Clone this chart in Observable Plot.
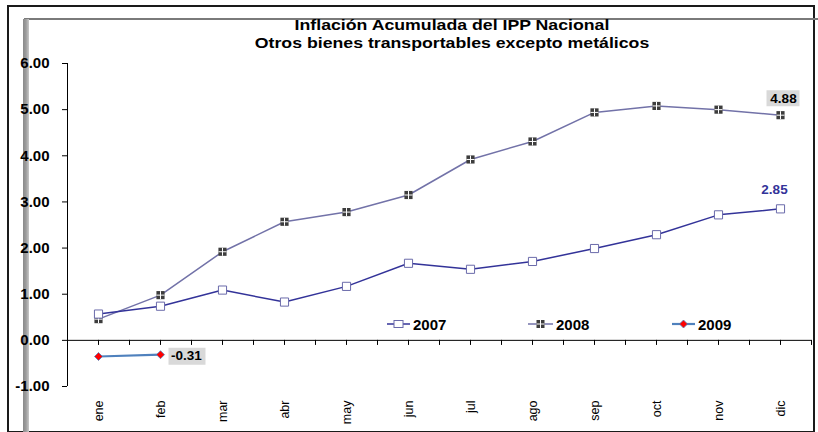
<!DOCTYPE html>
<html>
<head>
<meta charset="utf-8">
<script src="https://cdn.jsdelivr.net/npm/d3@7"></script>
<script src="https://cdn.jsdelivr.net/npm/@observablehq/plot@0.6"></script>
<style>
  html, body { margin: 0; padding: 0; background: #fff; }
  #wrap { position: relative; width: 818px; height: 432px; overflow: hidden; background: #fff; font-family: "Liberation Sans", Arial, sans-serif; }
  #wrap svg { display: block; position: relative; z-index: 2; background: transparent !important; }
  .ov { position: absolute; }
  .deco { z-index: 1; }
  #title { left: 0; width: 904px; top: 16px; text-align: center; font-weight: bold; font-size: 15px; line-height: 18px; color: #000; z-index: 3; transform: scaleX(1.18); transform-origin: 452px 0; }
  .leg { position: absolute; top: 315px; font-weight: bold; font-size: 15px; display: flex; align-items: center; height: 18px; z-index: 3; }
  .leg svg { margin-right: 3px; }
</style>
</head>
<body>
<div id="wrap"></div>
<script>
const months = ["ene","feb","mar","abr","may","jun","jul","ago","sep","oct","nov","dic"];
const v2007 = [0.57,0.74,1.09,0.83,1.17,1.67,1.54,1.71,1.99,2.29,2.72,2.85];
const v2008 = [0.46,0.98,1.92,2.57,2.78,3.15,3.92,4.31,4.94,5.08,5.00,4.88];
const v2009 = [-0.35,-0.31];
const yTicks = [-1,0,1,2,3,4,5,6];
const seriesNames = ["2007","2008","2009"];
const titleLines = ["Inflación Acumulada del IPP Nacional","Otros bienes transportables excepto metálicos"];

const c2007 = "#333399", c2008 = "#7272a8", c2009 = "#4f81bd";

const rows = (vals, s) => vals.map((v, i) => ({m: months[i], i, v, s}));
const d2007 = rows(v2007, "2007"), d2008 = rows(v2008, "2008"), d2009 = rows(v2009, "2009");

const plusSym = {draw(ctx, size) { const r = Math.sqrt(size / Math.PI) * 0.95; ctx.moveTo(-r, 0); ctx.lineTo(r, 0); ctx.moveTo(0, -r); ctx.lineTo(0, r); }};
const boxSym = (w, h) => ({draw(ctx) { ctx.rect(-w/2, -h/2, w, h); }});

const halfTicks = d3.range(0, 24).map(k => k / 2);

const last2008 = [d2008[d2008.length - 1]];
const last2007 = [d2007[d2007.length - 1]];
const last2009 = [d2009[d2009.length - 1]];

const chart = Plot.plot({
  width: 818, height: 432,
  marginLeft: 67, marginRight: 7, marginTop: 63, marginBottom: 46,
  style: {fontFamily: '"Liberation Sans", Arial, sans-serif', background: "transparent"},
  x: {type: "linear", domain: [-0.5, 11.5]},
  y: {domain: [-1, 6]},
  marks: [
    Plot.axisY({ticks: yTicks, tickFormat: d => d.toFixed(2), tickSize: 5, tickPadding: 13, fontSize: 15, fontWeight: "bold", stroke: "#000", label: null}),
    Plot.axisX({ticks: d3.range(12), tickFormat: i => months[i], tickSize: 0, tickRotate: -90, tickPadding: 14, fontSize: 12.5, label: null}),
    Plot.ruleX([-0.5], {y1: -1, y2: 6, stroke: "#000"}),
    Plot.ruleY([0], {x1: -0.5, x2: 11.5, stroke: "#000"}),
    Plot.ruleX(halfTicks, {x: d => d, y1: 0, y2: -0.11, stroke: "#000"}),
    Plot.line(d2008, {x: "i", y: "v", stroke: c2008, strokeWidth: 1.5}),
    Plot.line(d2007, {x: "i", y: "v", stroke: c2007, strokeWidth: 1.5}),
    Plot.line(d2009, {x: "i", y: "v", stroke: c2009, strokeWidth: 2.2}),
    Plot.dot(d2008, {x: "i", y: "v", symbol: "square", r: 4.6, fill: "#3d3d3d", stroke: "none"}),
    Plot.dot(d2008, {x: "i", y: "v", symbol: plusSym, r: 4.2, stroke: "#fff", strokeWidth: 1, fill: "none"}),
    Plot.dot(d2007, {x: "i", y: "v", symbol: "square", r: 4.6, fill: "#fff", stroke: "#6a6aaa", strokeWidth: 1}),
    Plot.dot(d2009, {x: "i", y: "v", symbol: "diamond2", r: 3.6, fill: "#ff0000", stroke: c2009, strokeWidth: 0.8}),
    // data labels
    Plot.dot(last2008, {x: "i", y: "v", symbol: boxSym(33, 16), dx: 2.5, dy: -17, fill: "#d9d9d9", stroke: "none"}),
    Plot.text(last2008, {x: "i", y: "v", text: d => d.v.toFixed(2), dx: 3, dy: -17, fontSize: 13.5, fontWeight: "bold", fill: "#000"}),
    Plot.text(last2007, {x: "i", y: "v", text: d => d.v.toFixed(2), dx: -6, dy: -19, fontSize: 13.5, fontWeight: "bold", fill: c2007}),
    Plot.dot(last2009, {x: "i", y: "v", symbol: boxSym(37, 17), dx: 26.5, dy: 1.5, fill: "#d9d9d9", stroke: "none"}),
    Plot.text(last2009, {x: "i", y: "v", text: d => d.v.toFixed(2), dx: 26, dy: 1.5, fontSize: 13.5, fontWeight: "bold", fill: "#000"})
  ]
});

const wrap = document.getElementById("wrap");
wrap.appendChild(chart);

function addDiv(style, cls) { const d = document.createElement("div"); d.className = "ov " + (cls || ""); Object.assign(d.style, style); wrap.appendChild(d); return d; }
// decorative frame (behind the chart)
addDiv({left: "7px", top: "5px", width: "808px", height: "428px", border: "2px solid #1a1a1a", boxSizing: "border-box"}, "deco");
addDiv({left: "24px", top: "18px", width: "794px", height: "2px", background: "#7a7a7a"}, "deco");
addDiv({left: "23px", top: "19px", width: "6px", height: "413px", background: "linear-gradient(to right, #8a8a8a, #9c9c9c 50%, #c8c8c8)"}, "deco");

// title
const t = addDiv({});
t.id = "title";
t.innerHTML = titleLines.join("<br>");

// legend
const legPos = [387, 528, 672];
const legMarkers = [
  `<svg width="23" height="12"><line x1="0" y1="6" x2="23" y2="6" stroke="${c2007}" stroke-width="1.5"/><rect x="7" y="2.5" width="9" height="7" fill="#fff" stroke="#6a6aaa"/></svg>`,
  `<svg width="25" height="12"><line x1="0" y1="6" x2="25" y2="6" stroke="${c2008}" stroke-width="1.5"/><rect x="8.5" y="2" width="8" height="8" fill="#3d3d3d"/><line x1="8.5" y1="6" x2="16.5" y2="6" stroke="#fff"/><line x1="12.5" y1="2" x2="12.5" y2="10" stroke="#fff"/></svg>`,
  `<svg width="23" height="12"><line x1="0" y1="6" x2="23" y2="6" stroke="${c2009}" stroke-width="2.2"/><path d="M11.5,2 L15.5,6 L11.5,10 L7.5,6 Z" fill="#ff0000" stroke="${c2009}" stroke-width="0.8"/></svg>`
];
seriesNames.forEach((s, k) => {
  const d = document.createElement("div");
  d.className = "leg";
  d.style.left = legPos[k] + "px";
  d.innerHTML = legMarkers[k] + `<span>${s}</span>`;
  wrap.appendChild(d);
});
</script>
</body>
</html>
